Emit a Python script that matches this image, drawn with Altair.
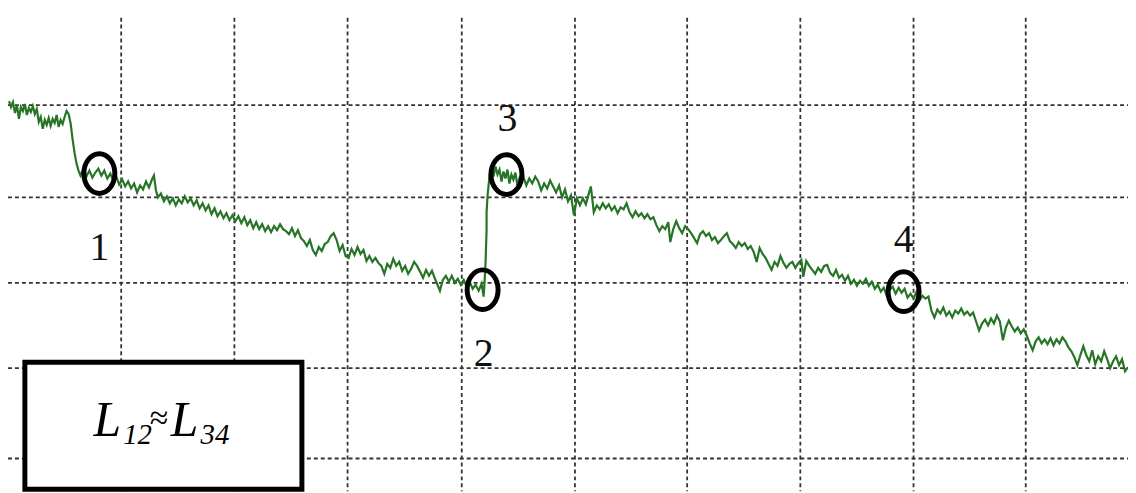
import altair as alt
import pandas as pd

# Signal trace: (sample, amplitude) pairs
signal = [
    (1,360),(3,354),(5,359),(7,348),(9,356),(11,342),(13,354),(15,350),(17,357),(19,346),
    (21,353),(23,349),(25,355),(27,347),(29,352),(31,339),(33,344),(35,332),(37,341),(39,336),
    (41,343),(43,335),(45,342),(47,338),(49,346),(51,334),(53,341),(55,337),(57,344),(59,350),
    (61,347),(63,338),(65,322),(67,308),(69,297),(71,290),
    (73,285),(76,292),(79,284),(82,290),(85,283),(88,288),(91,292),(94,285),(97,290),(100,282),
    (103,287),(106,280),(109,284),(112,276),(115,281),(118,274),(121,279),(124,272),(127,277),(130,268),
    (133,275),(136,271),(139,279),(142,273),(145,281),(147,285),(149,270),(151,263),
    (154,267),(157,259),(160,264),(163,257),(166,262),(169,255),(172,261),(175,257),(178,264),(181,258),
    (184,262),(187,255),(190,260),(193,252),(196,257),(199,250),(202,255),(205,246),(208,252),(211,244),
    (214,249),(217,242),(220,247),(223,240),(226,245),(229,239),(232,244),(235,237),(238,243),(241,235),
    (244,240),(247,232),(250,238),(253,231),(256,236),(259,229),(262,234),(265,228),(268,234),(271,230),
    (274,236),(277,231),
    (280,229),(283,226),(286,232),(289,224),(292,230),(295,222),(298,219),(301,214),(304,220),(307,210),
    (310,205),(313,213),(316,209),(319,216),(322,218),(325,224),(328,227),(331,220),(334,209),(337,215),
    (340,204),(343,202),(346,211),(349,205),(352,213),(355,206),(358,210),(361,199),(364,204),(367,198),
    (370,202),(373,197),(376,194),(379,186),(382,196),(385,192),(388,201),(391,194),(394,198),(397,189),
    (400,194),(403,186),(406,191),(409,198),(412,194),(415,188),(418,182),(421,190),(424,184),(427,189),
    (430,181),(433,174),(435,169),(438,180),(441,184),(444,178),(447,184),(450,177),(453,181),(456,175),
    (459,180),(462,173),(465,178),(468,171),(471,175),(474,169),(477,176),(479,163),(480,178),(481,198),
    (482,230),(482,248),(483,265),(485,285),(487,292),
    (489,284),(491,294),(493,286),(495,291),(497,279),(499,289),(501,282),(503,291),(505,277),(507,286),
    (509,281),(511,288),(513,275),(515,282),(517,278),(519,284),(522,275),(525,282),(528,277),(531,284),
    (534,279),(537,270),(540,277),(543,272),(546,280),(549,274),(552,268),(555,275),(558,263),(561,271),
    (564,259),(567,265),(570,245),(573,262),(576,255),(579,262),(582,256),(585,267),(587,274),(590,248),
    (593,255),(596,251),(599,257),(602,252),(605,256),(608,250),(611,254),(614,247),(617,253),(620,251),
    (623,257),(626,248),(629,243),(632,249),(635,244),(638,247),(641,242),(644,246),(647,241),(650,243),
    (653,235),(656,229),(659,234),(662,231),(665,238),(667,218),(670,231),(673,239),(676,232),(679,227),
    (682,234),(685,231),(688,227),(691,222),(694,217),(697,226),(700,229),(703,224),(706,227),(709,220),
    (712,223),(715,217),(718,220),(721,224),(724,227),(727,219),(730,216),(733,212),(736,218),(739,214),
    (742,217),(745,211),(748,214),(751,208),(754,198),(757,212),(760,206),(763,202),(766,196),(769,190),
    (772,198),(775,194),(778,204),(781,197),(784,192),(787,196),(790,198),(793,192),(796,197),(799,200),
    (801,183),(804,199),(807,194),(810,190),(813,186),(816,192),(819,188),(822,194),(825,195),(828,187),
    (831,184),(834,190),(837,182),(840,185),
    (843,179),(846,184),(849,176),(852,180),(855,174),(858,179),(861,176),(864,181),(867,174),(870,178),
    (873,171),(876,175),(879,168),(882,172),(885,164),(888,170),(891,173),(894,166),(897,172),(900,167),
    (903,171),(906,162),(909,166),(912,161),(915,168),(918,159),(921,164),(924,161),(927,163),(930,149),
    (933,142),(936,150),(939,146),(942,152),(945,144),(948,148),(951,142),(954,149),(957,146),(960,151),
    (963,145),(966,148),(969,144),(972,147),(975,138),(978,129),(981,136),(984,140),(987,134),(990,141),
    (993,136),(996,144),(999,138),(1002,119),(1005,132),(1008,139),(1011,133),(1014,128),(1017,132),(1020,126),
    (1023,130),(1026,124),(1029,116),(1032,109),(1035,118),(1038,122),(1041,116),(1044,120),(1047,115),(1050,121),
    (1053,114),(1056,120),(1059,116),(1062,122),(1065,118),(1068,112),(1071,108),(1074,102),(1077,94),(1080,104),
    (1083,113),(1086,104),(1089,98),(1092,109),(1095,95),(1098,103),(1101,98),(1104,108),(1107,100),(1110,91),
    (1113,98),(1116,103),(1119,94),(1122,100),(1125,88),(1128,92),
]

# Grid positions (data units)
grid_x = [114, 228, 342, 457, 571, 684, 798, 912, 1025]
grid_y = [356, 263, 177, 91, 0]

# Marked points and their labels
mark_ids = ["1", "2", "3", "4"]
mark_x = [92, 478, 502, 902]
mark_y = [287, 170, 286, 168]
label_x = [92, 479, 503, 902]
label_y = [212, 105, 342, 220]

X_DOM = [0, 1128]
Y_DOM = [-33, 452]
SERIF = "'Liberation Serif', 'Times New Roman', Times, 'DejaVu Serif', serif"

sig = pd.DataFrame({"t": [p[0] for p in signal], "v": [p[1] for p in signal]})
sig["i"] = range(len(sig))

xs = alt.Scale(domain=X_DOM, nice=False, zero=False)
ys = alt.Scale(domain=Y_DOM, nice=False, zero=False)
noax = None

vgrid = alt.Chart(pd.DataFrame({"gx": grid_x, "top": [444] * len(grid_x), "bot": [-33] * len(grid_x)})).mark_rule(
    color="#333333", strokeWidth=1.8, strokeDash=[4, 3]
).encode(
    x=alt.X("gx:Q", scale=xs, axis=noax),
    y=alt.Y("top:Q", scale=ys, axis=noax),
    y2="bot:Q",
)

hgrid = alt.Chart(pd.DataFrame({"gy": grid_y, "l": [0] * len(grid_y), "r": [1128] * len(grid_y)})).mark_rule(
    color="#333333", strokeWidth=1.8, strokeDash=[4, 3]
).encode(
    y=alt.Y("gy:Q", scale=ys, axis=noax),
    x=alt.X("l:Q", scale=xs, axis=noax),
    x2="r:Q",
)

line = alt.Chart(sig).mark_line(color="#267526", strokeWidth=2.2, strokeJoin="miter").encode(
    x=alt.X("t:Q", scale=xs, axis=noax),
    y=alt.Y("v:Q", scale=ys, axis=noax),
    order="i:Q",
)

box = alt.Chart(pd.DataFrame({"x1": [17], "x2": [296], "y1": [97], "y2": [-31]})).mark_rect(
    fill="white", stroke="black", strokeWidth=5
).encode(
    x=alt.X("x1:Q", scale=xs, axis=noax), x2="x2:Q",
    y=alt.Y("y1:Q", scale=ys, axis=noax), y2="y2:Q",
)

ellipse = "M -0.78 0 A 0.78 1 0 1 0 0.78 0 A 0.78 1 0 1 0 -0.78 0 Z"
circles = alt.Chart(pd.DataFrame({"mx": mark_x, "my": mark_y})).mark_point(
    shape=ellipse, size=1600, filled=False, stroke="black", strokeWidth=5, opacity=1
).encode(
    x=alt.X("mx:Q", scale=xs, axis=noax),
    y=alt.Y("my:Q", scale=ys, axis=noax),
)

labels = alt.Chart(pd.DataFrame({"lx": label_x, "ly": label_y, "id": mark_ids})).mark_text(
    font=SERIF, fontSize=40, color="#111111", baseline="middle", align="center"
).encode(
    x=alt.X("lx:Q", scale=xs, axis=noax),
    y=alt.Y("ly:Q", scale=ys, axis=noax),
    text="id:N",
)

# Formula L12 ≈ L34 pieces
f_text = ["L", "12", "≈", "L", "34"]
f_x = [86, 116, 152, 164, 194]
f_y = [23, 15, 40, 23, 15]
f_big = [1, 0, 2, 1, 0]
fdf = pd.DataFrame({"fx": f_x, "fy": f_y, "txt": f_text, "big": f_big})

def fpart(sel, size, style, align, baseline):
    return alt.Chart(fdf).transform_filter(alt.datum.big == sel).mark_text(
        font=SERIF, fontSize=size, fontStyle=style, color="black",
        align=align, baseline=baseline
    ).encode(
        x=alt.X("fx:Q", scale=xs, axis=noax),
        y=alt.Y("fy:Q", scale=ys, axis=noax),
        text="txt:N",
    )

f_main = fpart(1, 50, "italic", "left", "alphabetic")
f_sub = fpart(0, 29, "italic", "left", "alphabetic")
f_eq = fpart(2, 34, "normal", "center", "middle")

chart = alt.layer(vgrid, hgrid, line, box, circles, labels, f_main, f_sub, f_eq).properties(
    width=1128, height=485, padding=0, autosize="none", background="white"
).configure_view(stroke=None)

chart.save("out.html", embed_options={"renderer": "svg", "actions": False})
